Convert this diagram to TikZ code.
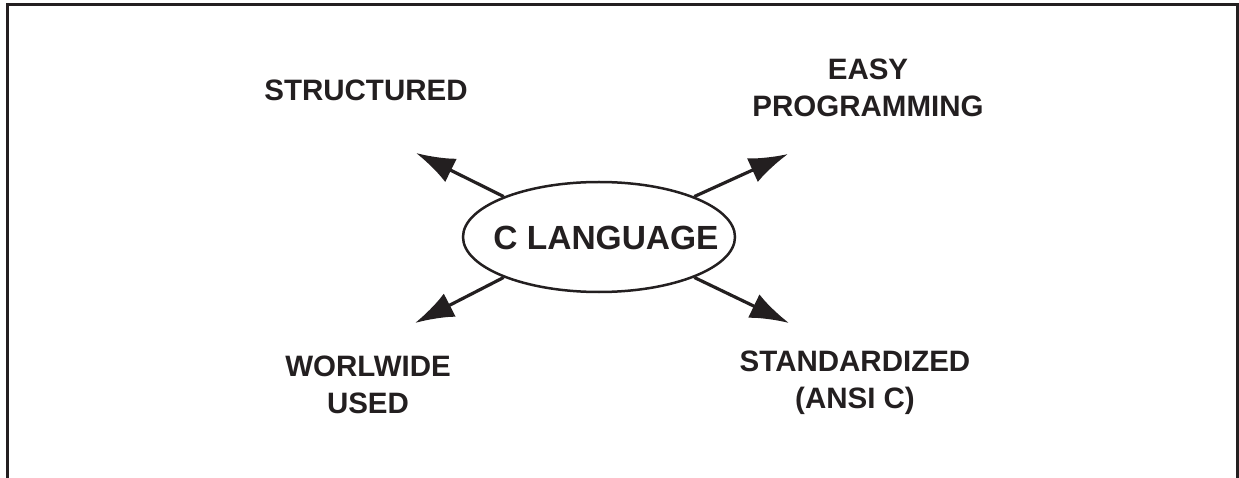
\documentclass[tikz,border=0pt]{standalone}
\usepackage{fontspec}
\setmainfont{Liberation Sans}
\usetikzlibrary{shapes.geometric,arrows.meta}
\definecolor{ink}{HTML}{231F20}
\begin{document}
\begin{tikzpicture}[x=1pt,y=-1pt,
  lbl/.style={font=\fontsize{29.5}{37.5}\selectfont\bfseries, text=ink, align=center, inner sep=0pt},
  arr/.style={draw=ink, line width=3.2pt, -{Latex[length=39pt,width=26pt]}},
  frame/.style={draw=ink, line width=3pt}]
\useasboundingbox (0,0) rectangle (1239,478);
\draw[frame] (7,490) -- (7,5) -- (1237,5) -- (1237,490);
\node[ellipse, draw=ink, line width=2.5pt, minimum width=272pt, minimum height=110pt, inner sep=0pt] (cl) at (599,237) {};
\node[font=\fontsize{33.5}{38}\selectfont\bfseries, text=ink, inner sep=0pt] (clt) at (606,238) {C LANGUAGE};
\node[lbl] (st) at (366,90) {STRUCTURED};
\node[lbl] (ez) at (868,88) {EASY\\PROGRAMMING};
\node[lbl] (ww) at (368,385) {WORLWIDE\\USED};
\node[lbl] (sd) at (855,383) {STANDARDIZED\\(ANSI C)};
\coordinate (tul) at (416,153);
\coordinate (tur) at (788,154);
\coordinate (tll) at (415,323);
\coordinate (tlr) at (789,323);
\draw[arr] (cl.157) -- (tul);
\draw[arr] (cl.23) -- (tur);
\draw[arr] (cl.203) -- (tll);
\draw[arr] (cl.-23) -- (tlr);
\end{tikzpicture}
\end{document}
